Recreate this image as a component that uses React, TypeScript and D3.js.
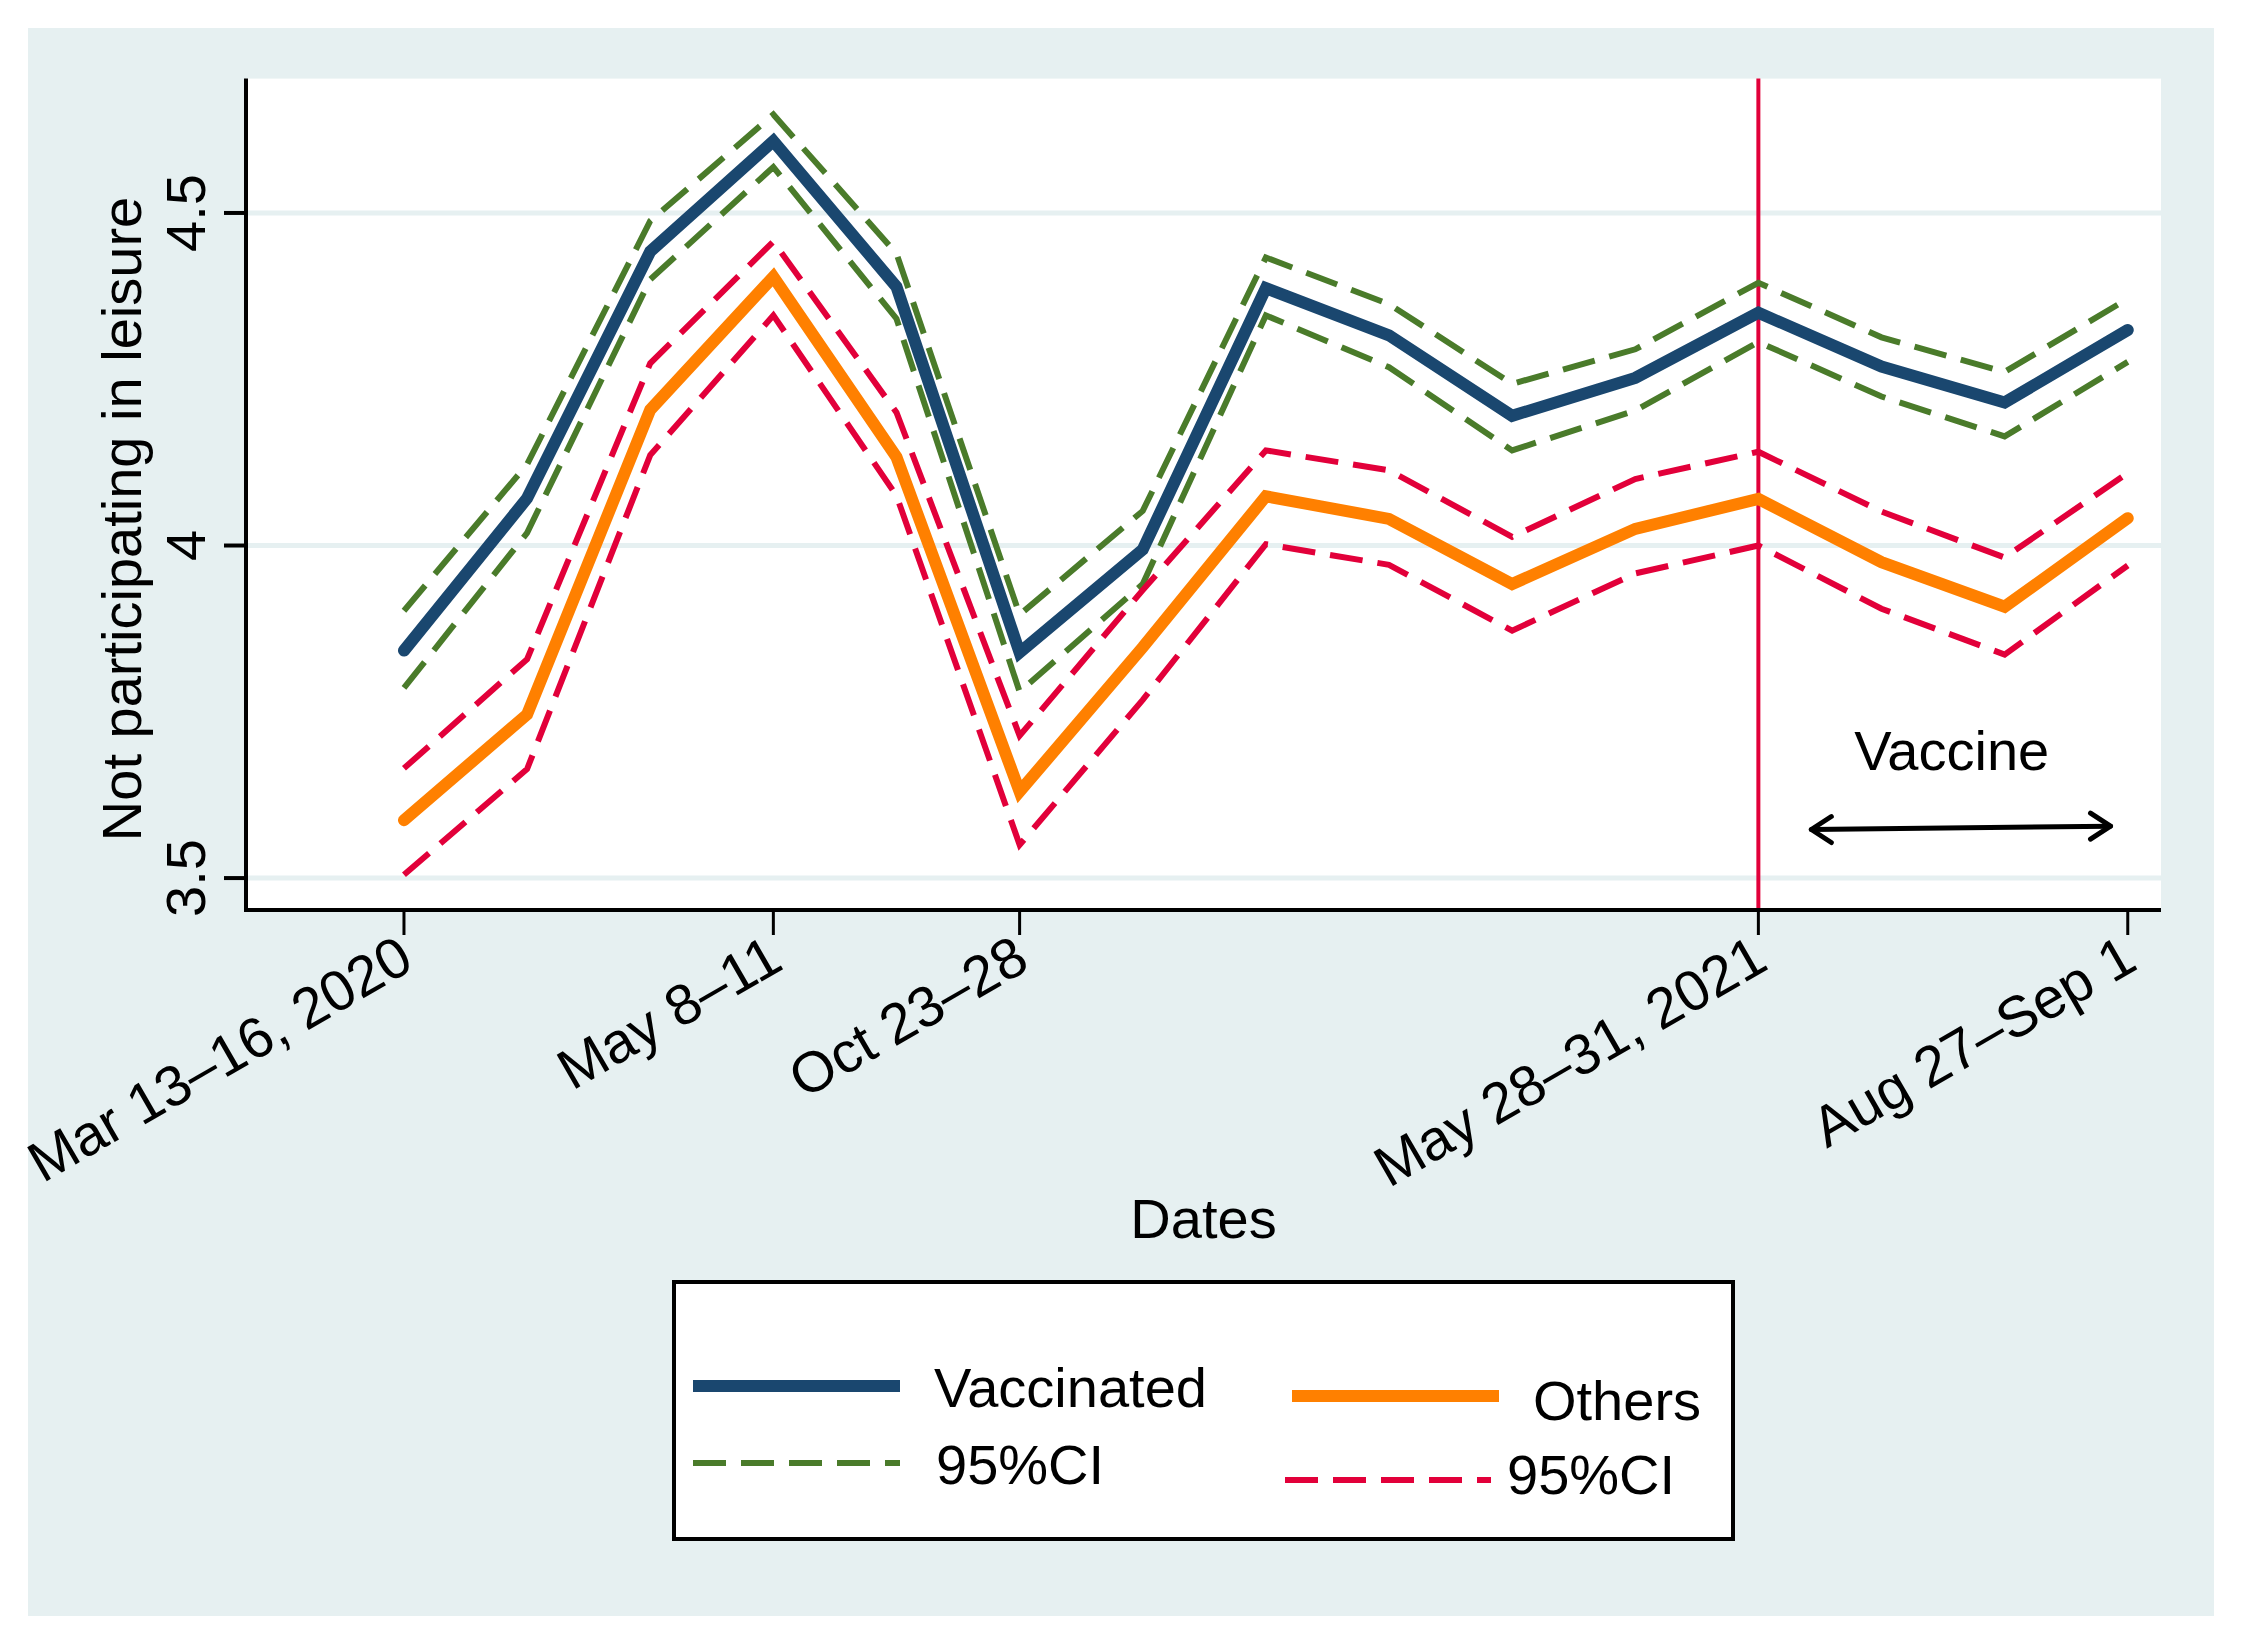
import React from "react";
import * as d3 from "d3";

// survey waves (x positions) and the labelled ones
const waves = [1, 2, 3, 4, 5, 6, 7, 8, 9, 10, 11, 12, 13, 14, 15];
const tickWaves = [1, 4, 6, 12, 15];
const tickLabels = ["Mar 13–16, 2020", "May 8–11", "Oct 23–28", "May 28–31, 2021", "Aug 27–Sep 1"];
const yTicks = [3.5, 4, 4.5];

const vaccinated = [3.842, 4.071, 4.442, 4.608, 4.389, 3.839, 3.994, 4.387, 4.316, 4.195, 4.252, 4.350, 4.269, 4.215, 4.324];
const vaccHi = [3.902, 4.122, 4.488, 4.648, 4.439, 3.896, 4.052, 4.433, 4.363, 4.243, 4.295, 4.395, 4.313, 4.261, 4.371];
const vaccLo = [3.786, 4.019, 4.400, 4.569, 4.341, 3.780, 3.942, 4.346, 4.268, 4.143, 4.203, 4.306, 4.224, 4.164, 4.276];
const others = [3.587, 3.746, 4.204, 4.404, 4.133, 3.630, 3.847, 4.074, 4.040, 3.942, 4.025, 4.070, 3.975, 3.908, 4.041];
const othHi = [3.665, 3.829, 4.274, 4.457, 4.200, 3.714, 3.933, 4.143, 4.113, 4.013, 4.100, 4.141, 4.051, 3.982, 4.109];
const othLo = [3.505, 3.664, 4.136, 4.346, 4.075, 3.550, 3.768, 4.002, 3.971, 3.872, 3.958, 4.000, 3.905, 3.836, 3.970];

const vaccineWave = 12;
const arrowPts = [
  { x: 12.43, y: 3.573 },
  { x: 14.86, y: 3.578 },
];
const vaccineLabel = { x: 13.57, y: 3.662, text: "Vaccine" };

const W = 2241;
const H = 1641;
const FONT = "'Liberation Sans', Arial, Helvetica, sans-serif";
const FS = 56;
const BG = "#e6f0f1";

const C_BLUE = "#1a476f";
const C_ORANGE = "#ff8000";
const C_GREEN = "#4a7b2a";
const C_RED = "#e2003a";

export default function App() {
  const left = 246, right = 2161, top = 78.6, bottom = 910;

  const x = d3.scaleLinear().domain([-0.283, 15.27]).range([left, right]);
  const y = d3.scaleLinear().domain([3.452, 4.702]).range([bottom, top]);

  const line = d3
    .line<number>()
    .x((_, i) => x(waves[i]))
    .y((d) => y(d));

  const dash = "33,15";

  const series = [
    { data: vaccHi, color: C_GREEN, w: 6, dash },
    { data: vaccLo, color: C_GREEN, w: 6, dash },
    { data: othHi, color: C_RED, w: 6, dash },
    { data: othLo, color: C_RED, w: 6, dash },
    { data: vaccinated, color: C_BLUE, w: 12, dash: undefined },
    { data: others, color: C_ORANGE, w: 12, dash: undefined },
  ];

  // arrow
  const a0 = { x: x(arrowPts[0].x), y: y(arrowPts[0].y) };
  const a1 = { x: x(arrowPts[1].x), y: y(arrowPts[1].y) };

  const legendRows = [
    { x1: 693, x2: 900, y: 1386, color: C_BLUE, w: 12, dash: undefined, label: "Vaccinated", tx: 934, ty: 1407 },
    { x1: 693, x2: 900, y: 1463, color: C_GREEN, w: 6, dash, label: "95%CI", tx: 936, ty: 1484 },
    { x1: 1292, x2: 1499, y: 1396, color: C_ORANGE, w: 12, dash: undefined, label: "Others", tx: 1533, ty: 1420 },
    { x1: 1285, x2: 1491, y: 1480, color: C_RED, w: 6, dash, label: "95%CI", tx: 1507, ty: 1494 },
  ];

  return (
    <div style={{ position: "absolute", left: 0, top: 0 }}>
      <svg width={W} height={H} style={{ display: "block", fontFamily: FONT }}>
        <rect x={0} y={0} width={W} height={H} fill="#ffffff" />
        <rect x={28} y={28} width={2186} height={1588} fill={BG} />
        <rect x={left} y={top} width={right - left} height={bottom - top} fill="#ffffff" />

        {/* gridlines */}
        {yTicks.map((t) => (
          <line key={"g" + t} x1={left} x2={right} y1={y(t)} y2={y(t)} stroke={BG} strokeWidth={5} />
        ))}

        {/* vaccine start */}
        <line x1={x(vaccineWave)} x2={x(vaccineWave)} y1={top} y2={bottom} stroke={C_RED} strokeWidth={4} />

        {series.map((s, i) => (
          <path
            key={i}
            d={line(s.data) || ""}
            fill="none"
            stroke={s.color}
            strokeWidth={s.w}
            strokeDasharray={s.dash}
            strokeLinejoin="miter"
            strokeLinecap={s.dash ? "butt" : "round"}
          />
        ))}

        {/* axes */}
        <line x1={left} x2={left} y1={top} y2={bottom + 2} stroke="#000" strokeWidth={4} />
        <line x1={left - 2} x2={right} y1={bottom} y2={bottom} stroke="#000" strokeWidth={4} />
        {yTicks.map((t) => (
          <g key={"yt" + t}>
            <line x1={left - 22} x2={left} y1={y(t)} y2={y(t)} stroke="#000" strokeWidth={4} />
            <text
              transform={`translate(205,${y(t)}) rotate(-90)`}
              textAnchor="middle"
              fontSize={FS}
              fill="#000"
            >
              {String(t)}
            </text>
          </g>
        ))}
        {tickWaves.map((t, i) => (
          <g key={"xt" + t}>
            <line x1={x(t)} x2={x(t)} y1={bottom} y2={bottom + 25} stroke="#000" strokeWidth={3} />
            <text
              transform={`translate(${x(t) + 12},968) rotate(-30)`}
              textAnchor="end"
              fontSize={57}
              fill="#000"
            >
              {tickLabels[i]}
            </text>
          </g>
        ))}

        <text
          transform={`translate(141,519) rotate(-90)`}
          textAnchor="middle"
          fontSize={FS}
          fill="#000"
        >
          Not participating in leisure
        </text>
        <text x={(left + right) / 2} y={1238} textAnchor="middle" fontSize={FS} fill="#000">
          Dates
        </text>

        {/* vaccine annotation */}
        <text x={x(vaccineLabel.x)} y={y(vaccineLabel.y)} textAnchor="middle" fontSize={FS} fill="#000">
          {vaccineLabel.text}
        </text>
        <g stroke="#000" strokeWidth={5} fill="none" strokeLinecap="round" strokeLinejoin="round">
          <line x1={a0.x} y1={a0.y} x2={a1.x} y2={a1.y} />
          <polyline points={`${a0.x + 20},${a0.y - 13} ${a0.x},${a0.y} ${a0.x + 20},${a0.y + 13}`} />
          <polyline points={`${a1.x - 20},${a1.y - 13} ${a1.x},${a1.y} ${a1.x - 20},${a1.y + 13}`} />
        </g>

        {/* legend */}
        <rect x={674} y={1282} width={1059} height={257} fill="#ffffff" stroke="#000" strokeWidth={4} />
        {legendRows.map((r, i) => (
          <g key={"l" + i}>
            <line x1={r.x1} x2={r.x2} y1={r.y} y2={r.y} stroke={r.color} strokeWidth={r.w} strokeDasharray={r.dash} />
            <text x={r.tx} y={r.ty} fontSize={FS} fill="#000">
              {r.label}
            </text>
          </g>
        ))}
      </svg>
    </div>
  );
}
